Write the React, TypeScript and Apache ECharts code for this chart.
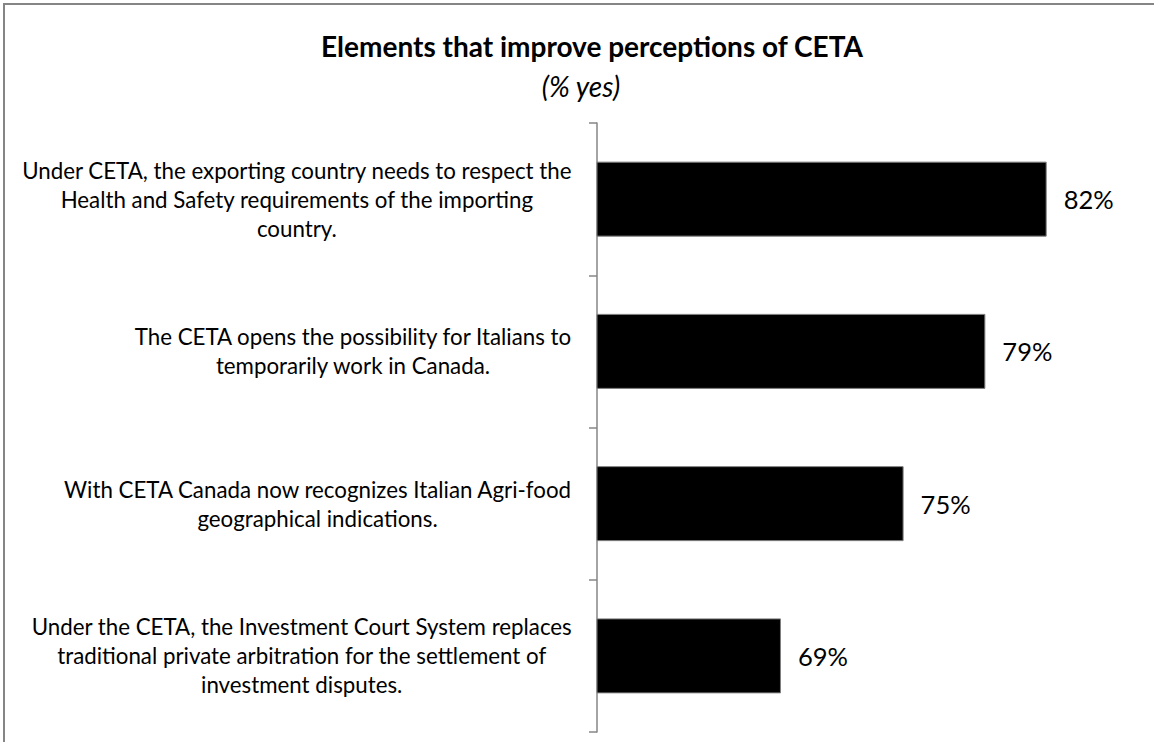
import React, { useEffect, useRef } from "react";
import * as echarts from "echarts";

const categories: string[][] = [
  ["Under CETA, the exporting country needs to respect the", "Health and Safety requirements of the importing", "country."],
  ["The CETA opens the possibility for Italians to", "temporarily work in Canada."],
  ["With CETA Canada now recognizes Italian Agri-food", "geographical indications."],
  ["Under the CETA, the Investment Court System replaces", "traditional private arbitration for the settlement of", "investment disputes."],
];
const values: number[] = [82, 79, 75, 69];
const titleText = "Elements that improve perceptions of CETA";
const subtitleText = "(% yes)";

const FONT = "Lato, 'Open Sans', sans-serif";

export default function App() {
  const ref = useRef<HTMLDivElement>(null);
  useEffect(() => {
    document.body.style.margin = "0";
    const chart = echarts.init(ref.current!, null, { renderer: "svg" });
    const catNames = categories.map((lines) => lines.join("\n"));
    chart.setOption({
      animation: false,
      backgroundColor: "#ffffff",
      graphic: [
        {
          type: "rect",
          shape: { x: 4, y: 4, width: 1200, height: 800 },
          style: { fill: "none", stroke: "#858585", lineWidth: 2 },
          silent: true,
        },
        {
          type: "text",
          x: 592,
          y: 46,
          style: {
            text: titleText,
            textAlign: "center",
            textVerticalAlign: "middle",
            font: `bold 28px ${FONT}`,
            fill: "#000",
          },
        },
        {
          type: "text",
          x: 581,
          y: 86,
          style: {
            text: subtitleText,
            textAlign: "center",
            textVerticalAlign: "middle",
            font: `italic 28px ${FONT}`,
            fill: "#000",
          },
        },
      ],
      grid: { left: 597, right: 46, top: 123, bottom: 10, containLabel: false },
      xAxis: {
        type: "value",
        min: 60,
        max: 85,
        show: false,
      },
      yAxis: {
        type: "category",
        inverse: true,
        data: catNames,
        axisLine: { show: true, lineStyle: { color: "#868686", width: 1.5 } },
        axisTick: { show: true, length: 8, lineStyle: { color: "#868686", width: 1.5 } },
        splitLine: { show: false },
        axisLabel: {
          margin: 25,
          align: "right",
          formatter: (v: string) =>
            v
              .split("\n")
              .map((l) => `{c|${l}}`)
              .join("\n"),
          rich: {
            c: {
              align: "center",
              fontFamily: FONT,
              fontSize: 22.3,
              lineHeight: 29,
              color: "#000",
            },
          },
        },
      },
      series: [
        {
          type: "bar",
          data: values,
          barWidth: 75,
          itemStyle: { color: "#000", borderColor: "#7f7f7f", borderWidth: 1 },
          label: {
            show: true,
            position: "right",
            distance: 17,
            formatter: "{c}%",
            fontFamily: FONT,
            fontSize: 25.5,
            color: "#000",
          },
        },
      ],
    });
    return () => chart.dispose();
  }, []);
  return (
    <div
      ref={ref}
      style={{ position: "absolute", left: 0, top: 0, width: 1154, height: 742 }}
    />
  );
}
